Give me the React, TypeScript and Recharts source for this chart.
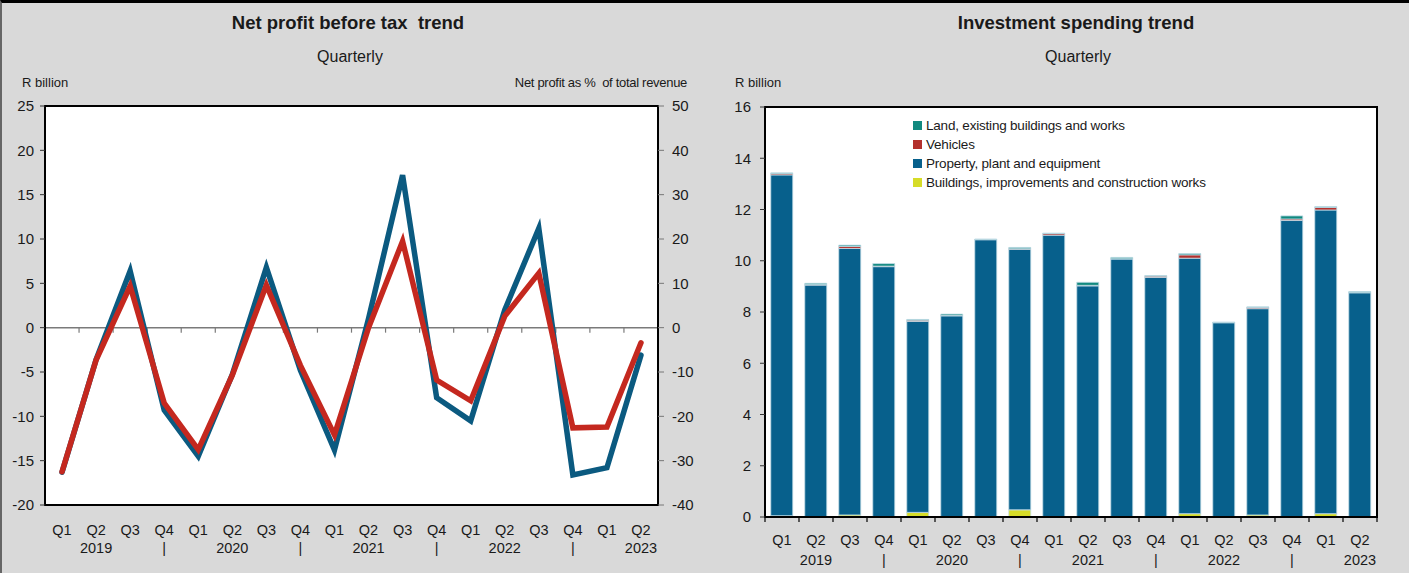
import React from "react";
import {
  ComposedChart,
  BarChart,
  Bar,
  Line,
  XAxis,
  YAxis,
  ReferenceLine,
  ReferenceArea,
} from "recharts";

// quarters, shared by both panels
const periods = [
  "2019 Q1", "2019 Q2", "2019 Q3", "2019 Q4",
  "2020 Q1", "2020 Q2", "2020 Q3", "2020 Q4",
  "2021 Q1", "2021 Q2", "2021 Q3", "2021 Q4",
  "2022 Q1", "2022 Q2", "2022 Q3", "2022 Q4",
  "2023 Q1", "2023 Q2",
];

// left panel (R billion / %)
const profitBeforeTax = [-16.3, -3.6, 6.4, -9.3, -14.5, -5.3, 6.8, -4.8, -13.8, 1.0, 17.2, -7.9, -10.5, 2.0, 11.2, -16.6, -15.8, -3.1];
const netProfitPct = [-32.5, -7.3, 9.4, -17.0, -27.5, -10.7, 9.6, -8.5, -24.2, 0.0, 19.5, -11.8, -16.5, 2.6, 12.3, -22.6, -22.4, -3.4];
const billionTicks = [-20, -15, -10, -5, 0, 5, 10, 15, 20, 25];
const pctTicks = [-40, -30, -20, -10, 0, 10, 20, 30, 40, 50];

// right panel (R billion), stacked bottom -> top
const buildings = [0.05, 0.02, 0.08, 0.02, 0.18, 0.02, 0.02, 0.28, 0.02, 0.02, 0.02, 0.02, 0.13, 0.02, 0.08, 0.02, 0.13, 0.02];
const ppe = [13.3, 9.03, 10.4, 9.75, 7.45, 7.83, 10.8, 10.17, 10.98, 9.0, 10.05, 9.33, 9.97, 7.56, 8.05, 11.55, 11.85, 8.73];
const vehicles = [0.05, 0.02, 0.08, 0.02, 0.05, 0.02, 0.01, 0.02, 0.06, 0.02, 0.01, 0.05, 0.13, 0.01, 0.05, 0.06, 0.1, 0.01];
const land = [0.03, 0.05, 0.05, 0.1, 0.03, 0.05, 0.02, 0.05, 0.02, 0.12, 0.05, 0.02, 0.05, 0.02, 0.02, 0.12, 0.03, 0.04];
const investTicks = [0, 2, 4, 6, 8, 10, 12, 14, 16];

const FONT = '"Liberation Sans", Arial, sans-serif';
const BLUE = "#0b5a80";
const RED = "#c4281f";
const BAR_BLUE = "#07608c";
const YELLOW = "#d6dc28";
const BAR_RED = "#b3302c";
const TEAL = "#11897f";
const INK = "#1a1a1a";

const profitData = periods.map((p, i) => ({
  period: p,
  profit: profitBeforeTax[i],
  pct: netProfitPct[i],
}));

const investData = periods.map((p, i) => ({
  period: p,
  buildings: buildings[i],
  ppe: ppe[i],
  vehicles: vehicles[i],
  land: land[i],
}));

// Q label on first row, year under Q2, separator under Q4
function makeQuarterTick(qOffset: number, yearOffset: number) {
  return (props: any) => {
    const { x, y, payload } = props;
    const [yr, q] = String(payload.value).split(" ");
    const second = q === "Q2" ? yr : q === "Q4" ? "|" : "";
    return (
      <g>
        <text x={x} y={y + qOffset} textAnchor="middle" fontSize={14.5} fill={INK} fontFamily={FONT}>
          {q}
        </text>
        <text x={x} y={y + yearOffset} textAnchor="middle" fontSize={14.5} fill={INK} fontFamily={FONT}>
          {second}
        </text>
      </g>
    );
  };
}

// horizontal line with small downward ticks at category boundaries
function lineWithTicks(count: number, first: number, last: number, color: string, width: number) {
  return (props: any) => {
    const { x1, x2, y1 } = props;
    const step = (x2 - x1) / count;
    const ticks = [];
    for (let i = first; i <= last; i++) {
      const x = x1 + step * i;
      ticks.push(<line key={i} x1={x} x2={x} y1={y1} y2={y1 + 5} stroke={color} strokeWidth={1.2} />);
    }
    return (
      <g>
        <line x1={x1} x2={x2} y1={y1} y2={y1} stroke={color} strokeWidth={width} />
        {ticks}
      </g>
    );
  };
}

const textStyle: React.CSSProperties = {
  position: "absolute",
  fontFamily: FONT,
  color: INK,
  whiteSpace: "nowrap",
};

function ProfitPanel() {
  return (
    <div style={{ position: "absolute", left: 0, top: 0, width: 705, height: 573 }}>
      <div style={{ ...textStyle, left: 0, width: 692, top: 9, textAlign: "center", fontSize: 18.5, fontWeight: "bold" }}>
        Net profit before tax&nbsp; trend
      </div>
      <div style={{ ...textStyle, left: 0, width: 696, top: 45, textAlign: "center", fontSize: 16 }}>
        Quarterly
      </div>
      <div style={{ ...textStyle, left: 20, top: 72, fontSize: 13 }}>R billion</div>
      <div style={{ ...textStyle, right: 20, top: 72, fontSize: 13, letterSpacing: -0.3 }}>Net profit as %&nbsp; of total revenue</div>

      <div style={{ ...textStyle, left: 91, top: 127, fontSize: 12.5, letterSpacing: -0.2, display: "flex", alignItems: "center" }}>
        <span style={{ display: "inline-block", width: 40, height: 5, borderRadius: 3, background: BLUE, marginRight: 5 }} />
        <span style={{ marginRight: 31 }}>Profit before tax</span>
        <span style={{ display: "inline-block", width: 40, height: 5, borderRadius: 3, background: RED, marginRight: 5 }} />
        <span>Net profit as % of total revenue</span>
      </div>

      <ComposedChart
        width={705}
        height={573}
        data={profitData}
        margin={{ top: 103, right: 9, bottom: 21, left: 3 }}
        style={{ position: "absolute", left: 0, top: 0 }}
      >
        <XAxis
          dataKey="period"
          scale="band"
          interval={0}
          axisLine={false}
          tickLine={false}
          tickSize={0}
          tickMargin={0}
          height={50}
          tick={makeQuarterTick(30, 48)}
        />
        <YAxis
          yAxisId="bn"
          domain={[-20, 25]}
          ticks={billionTicks}
          interval={0}
          width={40}
          axisLine={{ stroke: "#000", strokeWidth: 2 }}
          tickLine={{ stroke: "#333" }}
          tickSize={5}
          tickMargin={6}
          tick={{ fontSize: 15, fill: INK, fontFamily: FONT }}
        />
        <YAxis
          yAxisId="pct"
          orientation="right"
          domain={[-40, 50]}
          ticks={pctTicks}
          interval={0}
          width={40}
          axisLine={{ stroke: "#000", strokeWidth: 2 }}
          tickLine={{ stroke: "#777" }}
          tickSize={6}
          tickMargin={8}
          tick={{ fontSize: 15, fill: INK, fontFamily: FONT, textAnchor: "start" }}
        />
        <ReferenceArea yAxisId="bn" y1={-20} y2={25} fill="#ffffff" fillOpacity={1} stroke="#000" strokeWidth={2} ifOverflow="visible" />
        <ReferenceLine
          yAxisId="bn"
          y={0}
          stroke="#7a7a7a"
          shape={lineWithTicks(periods.length, 1, periods.length - 1, "#7a7a7a", 1.5)}
        />
        <Line
          yAxisId="bn"
          type="linear"
          dataKey="profit"
          stroke={BLUE}
          strokeWidth={5.5}
          strokeLinejoin="miter"
          strokeLinecap="round"
          dot={false}
          isAnimationActive={false}
        />
        <Line
          yAxisId="pct"
          type="linear"
          dataKey="pct"
          stroke={RED}
          strokeWidth={5.5}
          strokeLinejoin="miter"
          strokeLinecap="round"
          dot={false}
          isAnimationActive={false}
        />
      </ComposedChart>
    </div>
  );
}

const investLegend = [
  { label: "Land, existing buildings and works", color: TEAL },
  { label: "Vehicles", color: BAR_RED },
  { label: "Property, plant and equipment", color: BAR_BLUE },
  { label: "Buildings, improvements and construction works", color: YELLOW },
];

function InvestmentPanel() {
  return (
    <div style={{ position: "absolute", left: 705, top: 0, width: 704, height: 573 }}>
      <div style={{ ...textStyle, left: 0, width: 738, top: 9, textAlign: "center", fontSize: 18.5, fontWeight: "bold" }}>
        Investment spending trend
      </div>
      <div style={{ ...textStyle, left: 0, width: 742, top: 45, textAlign: "center", fontSize: 16 }}>
        Quarterly
      </div>
      <div style={{ ...textStyle, left: 28, top: 72, fontSize: 13 }}>R billion</div>

      <BarChart
        width={704}
        height={573}
        data={investData}
        margin={{ top: 104, right: 34, bottom: 9, left: 8 }}
        barCategoryGap="17%"
        style={{ position: "absolute", left: 0, top: 0 }}
      >
        <XAxis
          dataKey="period"
          interval={0}
          axisLine={false}
          tickLine={false}
          tickSize={0}
          tickMargin={0}
          height={50}
          tick={makeQuarterTick(28, 48)}
        />
        <YAxis
          domain={[0, 16]}
          ticks={investTicks}
          interval={0}
          width={50}
          axisLine={{ stroke: "#000", strokeWidth: 2 }}
          tickLine={{ stroke: "#333" }}
          tickSize={5}
          tickMargin={9}
          tick={{ fontSize: 15, fill: INK, fontFamily: FONT }}
        />
        <ReferenceArea y1={0} y2={16} fill="#ffffff" fillOpacity={1} stroke="#000" strokeWidth={2} ifOverflow="visible" />
        <Bar dataKey="buildings" stackId="a" fill={YELLOW} stroke="#c4dde8" strokeWidth={0.8} isAnimationActive={false} />
        <Bar dataKey="ppe" stackId="a" fill={BAR_BLUE} stroke="#c4dde8" strokeWidth={0.8} isAnimationActive={false} />
        <Bar dataKey="vehicles" stackId="a" fill={BAR_RED} stroke="#c4dde8" strokeWidth={0.8} isAnimationActive={false} />
        <Bar dataKey="land" stackId="a" fill={TEAL} stroke="#c4dde8" strokeWidth={0.8} isAnimationActive={false} />
        <ReferenceLine
          y={0}
          stroke="#000"
          shape={lineWithTicks(periods.length, 0, periods.length, "#000", 2)}
        />
      </BarChart>

      <div style={{ position: "absolute", left: 206, top: 113 }}>
        {investLegend.map((item) => (
          <div key={item.label} style={{ display: "flex", alignItems: "center", height: 19, fontFamily: FONT, fontSize: 13.5, letterSpacing: -0.2, color: INK }}>
            <span style={{ display: "inline-block", width: 9, height: 9, background: item.color, marginRight: 4 }} />
            <span>{item.label}</span>
          </div>
        ))}
      </div>
    </div>
  );
}

export default function App() {
  return (
    <div
      style={{
        position: "absolute",
        left: 0,
        top: 0,
        width: 1409,
        height: 573,
        background: "#d9d9d9",
        borderTop: "3px solid #000",
        borderLeft: "2px solid #666",
        boxSizing: "border-box",
        overflow: "hidden",
      }}
    >
      <ProfitPanel />
      <InvestmentPanel />
    </div>
  );
}
